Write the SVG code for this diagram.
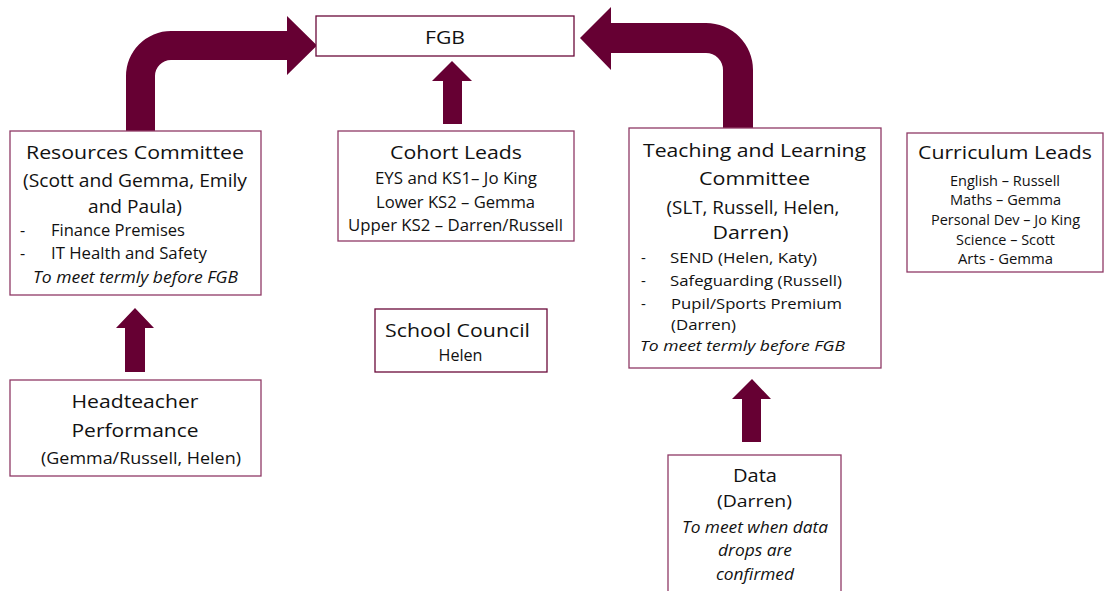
<svg xmlns="http://www.w3.org/2000/svg" width="1104" height="591" viewBox="0 0 1104 591">
<style>
.box{fill:#fff;stroke:#8f3a66;stroke-width:1.3}
.dk{stroke:#6a0a3a}
.arr{fill:#660033}
text{font-family:"Open Sans","Noto Sans",sans-serif;fill:#111}
.m{text-anchor:middle}
.h{font-size:18px}
.s{font-size:16px}
.b{font-size:15px}
.c{font-size:14.5px}
.i{font-style:italic}
</style>
<rect width="1104" height="591" fill="#fff"/>
<g id="connectors">
<path class="arr" d="M126,131 L126,76 A45,45 0 0 1 171,31 L287,31 L287,16 L317,45.5 L287,75 L287,60 L171,60 A16,16 0 0 0 155,76 L155,131 Z"/>
<path class="arr" d="M753,128 L753,70 A47,47 0 0 0 706,23 L611,23 L611,7 L580,38 L611,70 L611,53 L706,53 A17,17 0 0 1 723,70 L723,128 Z"/>
<path class="arr" d="M443,124 L443,81 L432,81 L452,61 L472,81 L462,81 L462,124 Z"/>
<path class="arr" d="M125,372 L125,328 L116,328 L135,308 L154,328 L145,328 L145,372 Z"/>
<path class="arr" d="M742,442 L742,399 L732,399 L752,379 L771,399 L761,399 L761,442 Z"/>
</g>
<g id="fgb">
<rect class="box dk" x="316" y="16" width="258" height="40"/>
<text class="m h" x="445" y="44" textLength="40" lengthAdjust="spacingAndGlyphs">FGB</text>
</g>
<g id="resources">
<rect class="box" x="10" y="131" width="251" height="164"/>
<text class="m h" x="135" y="159" textLength="218" lengthAdjust="spacingAndGlyphs">Resources Committee</text>
<text class="m h" x="135" y="187" textLength="224" lengthAdjust="spacingAndGlyphs">(Scott and Gemma, Emily</text>
<text class="m h" x="135" y="212.5" textLength="94" lengthAdjust="spacingAndGlyphs">and Paula)</text>
<text class="s" x="20" y="236">-</text>
<text class="s" x="51" y="236" textLength="134" lengthAdjust="spacingAndGlyphs">Finance Premises</text>
<text class="s" x="20" y="259">-</text>
<text class="s" x="51" y="259" textLength="156" lengthAdjust="spacingAndGlyphs">IT Health and Safety</text>
<text class="m s i" x="135.5" y="283" textLength="205" lengthAdjust="spacingAndGlyphs">To meet termly before FGB</text>
</g>
<g id="cohort">
<rect class="box" x="338" y="131" width="236" height="110"/>
<text class="m h" x="456" y="159" textLength="132" lengthAdjust="spacingAndGlyphs">Cohort Leads</text>
<text class="m s" x="456" y="184" textLength="162" lengthAdjust="spacingAndGlyphs">EYS and KS1– Jo King</text>
<text class="m s" x="455.5" y="207.5" textLength="159" lengthAdjust="spacingAndGlyphs">Lower KS2 – Gemma</text>
<text class="m s" x="455.5" y="230.5" textLength="215" lengthAdjust="spacingAndGlyphs">Upper KS2 – Darren/Russell</text>
</g>
<g id="school-council">
<rect class="box dk" x="375" y="309" width="172" height="63"/>
<text class="m h" x="457.5" y="337" textLength="145" lengthAdjust="spacingAndGlyphs">School Council</text>
<text class="m s" x="460.5" y="361" textLength="44" lengthAdjust="spacingAndGlyphs">Helen</text>
</g>
<g id="teaching">
<rect class="box" x="629" y="128" width="252" height="240"/>
<text class="m h" x="754.5" y="157" textLength="223" lengthAdjust="spacingAndGlyphs">Teaching and Learning</text>
<text class="m h" x="754.5" y="185" textLength="111" lengthAdjust="spacingAndGlyphs">Committee</text>
<text class="m h" x="753" y="213.5" textLength="173" lengthAdjust="spacingAndGlyphs">(SLT, Russell, Helen,</text>
<text class="m h" x="750.5" y="238.5" textLength="76" lengthAdjust="spacingAndGlyphs">Darren)</text>
<text class="b" x="641" y="263">-</text>
<text class="b" x="670" y="263" textLength="147" lengthAdjust="spacingAndGlyphs">SEND (Helen, Katy)</text>
<text class="b" x="641" y="285.5">-</text>
<text class="b" x="670" y="285.5" textLength="172" lengthAdjust="spacingAndGlyphs">Safeguarding (Russell)</text>
<text class="b" x="641" y="308.5">-</text>
<text class="b" x="671" y="308.5" textLength="171" lengthAdjust="spacingAndGlyphs">Pupil/Sports Premium</text>
<text class="b" x="671" y="329.5" textLength="65" lengthAdjust="spacingAndGlyphs">(Darren)</text>
<text class="b i" x="640" y="350.5" textLength="205" lengthAdjust="spacingAndGlyphs">To meet termly before FGB</text>
</g>
<g id="curriculum">
<rect class="box" x="907" y="133" width="196" height="139"/>
<text class="m h" x="1005" y="158.5" textLength="174" lengthAdjust="spacingAndGlyphs">Curriculum Leads</text>
<text class="m c" x="1005" y="185.5" textLength="110" lengthAdjust="spacingAndGlyphs">English – Russell</text>
<text class="m c" x="1005.5" y="205" textLength="111" lengthAdjust="spacingAndGlyphs">Maths – Gemma</text>
<text class="m c" x="1005.5" y="225" textLength="149" lengthAdjust="spacingAndGlyphs">Personal Dev – Jo King</text>
<text class="m c" x="1005.5" y="244.5" textLength="99" lengthAdjust="spacingAndGlyphs">Science – Scott</text>
<text class="m c" x="1005.5" y="264" textLength="95" lengthAdjust="spacingAndGlyphs">Arts - Gemma</text>
</g>
<g id="headteacher">
<rect class="box" x="10" y="380" width="251" height="96"/>
<text class="m h" x="135" y="407.5" textLength="127" lengthAdjust="spacingAndGlyphs">Headteacher</text>
<text class="m h" x="135" y="437" textLength="127" lengthAdjust="spacingAndGlyphs">Performance</text>
<text class="m s" x="141" y="463.5" textLength="200" lengthAdjust="spacingAndGlyphs">(Gemma/Russell, Helen)</text>
</g>
<g id="data">
<rect class="box" x="668" y="455" width="173" height="150"/>
<text class="m h" x="755" y="482" textLength="44" lengthAdjust="spacingAndGlyphs">Data</text>
<text class="m s" x="754.5" y="506.5" textLength="75" lengthAdjust="spacingAndGlyphs">(Darren)</text>
<text class="m s i" x="755" y="533" textLength="146" lengthAdjust="spacingAndGlyphs">To meet when data</text>
<text class="m s i" x="755" y="555.5" textLength="74" lengthAdjust="spacingAndGlyphs">drops are</text>
<text class="m s i" x="755" y="579.5" textLength="78" lengthAdjust="spacingAndGlyphs">confirmed</text>
</g>
</svg>
